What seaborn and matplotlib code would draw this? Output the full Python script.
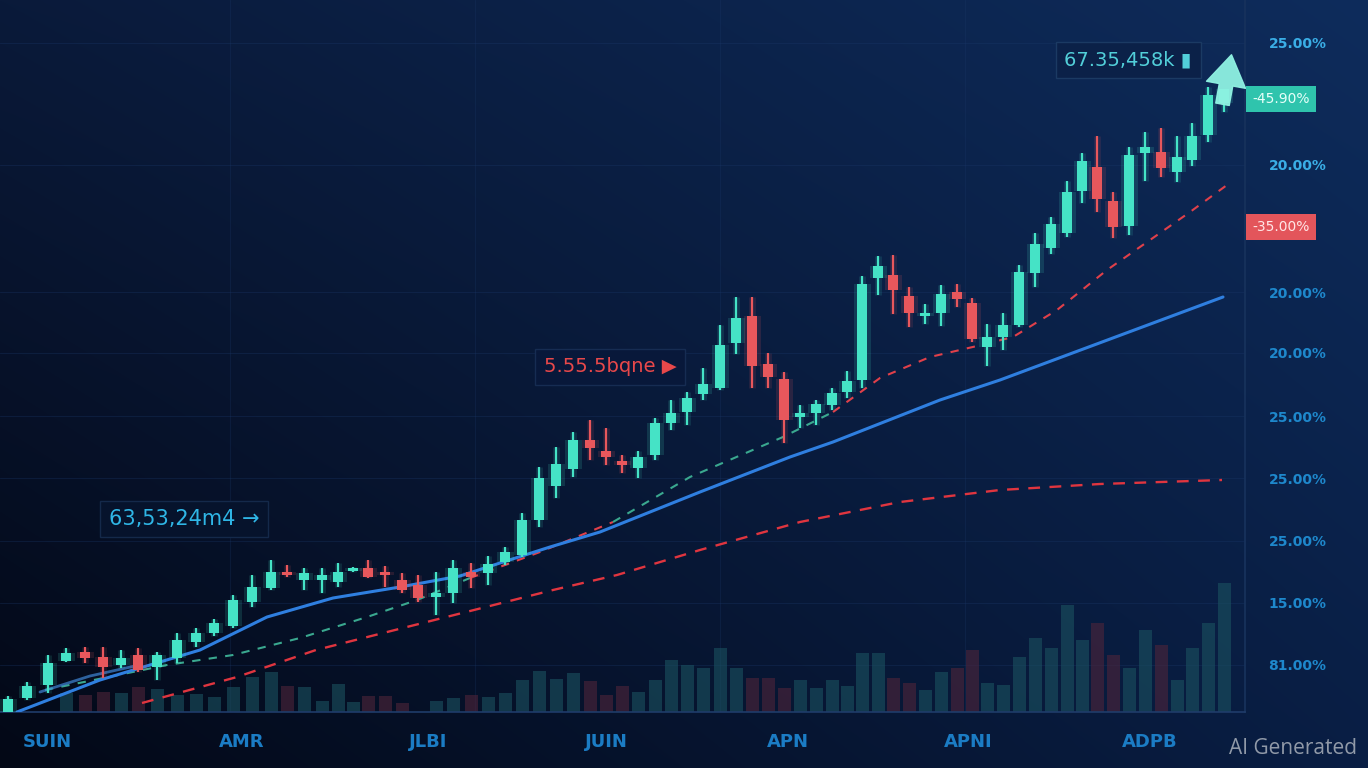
import numpy as np
import matplotlib
matplotlib.use("Agg")
import matplotlib.pyplot as plt
import seaborn as sns

# ------------------------------------------------------------------
# data
# ------------------------------------------------------------------
day = [8, 27, 48, 66, 85, 103, 121, 138, 157, 177, 196, 214, 233, 252, 271, 287, 304, 322, 338, 353,
       368, 385, 402, 418, 436, 453, 471, 488, 505, 522, 539, 556, 573, 590, 606, 622, 638, 655, 671, 687,
       703, 720, 736, 752, 768, 784, 800, 816, 832, 847, 862, 878, 893, 909, 925, 941, 957, 972, 987, 1003,
       1019, 1035, 1051, 1067, 1082, 1097, 1113, 1129, 1145, 1161, 1177, 1192, 1208, 1224]
open_ = [0, 14, 27, 51, 60, 55, 47, 57, 45, 54, 70, 79, 86, 110, 124, 140, 132, 132, 130, 141,
         144, 140, 132, 127, 115, 119, 140, 139, 150, 157, 192, 226, 243, 272, 261, 251, 244, 257, 289, 300,
         318, 324, 369, 396, 348, 333, 295, 299, 307, 320, 332, 434, 437, 416, 396, 399, 420, 409, 365, 375,
         387, 439, 464, 479, 521, 545, 511, 486, 559, 560, 540, 552, 577, 609]
close = [13, 26, 49, 59, 54, 45, 54, 42, 57, 72, 79, 89, 112, 125, 140, 137, 139, 137, 140, 144,
         135, 137, 122, 114, 119, 144, 135, 148, 160, 192, 234, 248, 272, 264, 255, 247, 255, 289, 299, 314,
         328, 367, 394, 346, 335, 292, 299, 308, 319, 331, 428, 446, 422, 399, 399, 418, 413, 373, 375, 387,
         440, 468, 488, 520, 551, 513, 485, 557, 565, 544, 555, 576, 617, 623]
high = [16, 30, 57, 64, 65, 65, 62, 64, 60, 79, 84, 93, 117, 137, 152, 147, 144, 144, 149, 145,
        152, 146, 139, 137, 140, 152, 149, 156, 165, 199, 245, 265, 280, 292, 284, 257, 261, 294, 312, 320,
        344, 387, 415, 415, 359, 340, 307, 312, 324, 341, 436, 456, 457, 425, 408, 427, 428, 414, 388, 399,
        447, 479, 495, 531, 559, 576, 520, 565, 580, 584, 576, 589, 625, 623]
low = [0, 12, 19, 50, 49, 34, 44, 40, 32, 49, 65, 76, 84, 105, 122, 135, 122, 119, 125, 140,
       134, 125, 119, 110, 97, 109, 124, 127, 147, 155, 185, 214, 235, 252, 247, 239, 234, 252, 282, 287,
       312, 322, 358, 324, 324, 269, 284, 287, 302, 314, 324, 417, 398, 385, 388, 386, 405, 370, 346, 362,
       385, 425, 458, 475, 509, 500, 474, 477, 531, 535, 530, 546, 570, 600]
volume = [0, 0, 0, 19, 17, 20, 19, 25, 23, 17, 18, 15, 25, 35, 40, 26, 25, 11, 28, 10,
          16, 16, 9, 0, 11, 14, 17, 15, 19, 32, 41, 33, 39, 31, 17, 26, 20, 32, 52, 47,
          44, 64, 44, 34, 34, 24, 32, 24, 32, 26, 59, 59, 34, 29, 22, 40, 44, 62, 29, 27,
          55, 74, 64, 107, 72, 89, 57, 44, 82, 67, 32, 64, 89, 129]

# moving averages
ma_fast_x = [17, 100, 200, 267, 333, 400, 460, 500, 550, 600, 700, 790, 833, 940, 1000, 1223]
ma_fast = [0, 32, 62, 95, 114, 125, 136, 149, 165, 180, 220, 255, 270, 312, 332, 415]
ma_short_x = [40, 90, 135]
ma_short = [20, 36, 46]
ma_mid_x = [45, 167, 233, 300, 367, 417, 470, 540, 613, 690, 783, 833, 880, 930, 977, 1013,
            1057, 1107, 1150, 1190, 1227]
ma_mid = [22, 47, 57, 74, 95, 112, 134, 160, 190, 235, 275, 300, 334, 355, 366, 375,
          402, 442, 472, 500, 527]
ma_slow_x = [142, 237, 316, 395, 474, 553, 617, 700, 800, 900, 1000, 1100, 1222]
ma_slow = [9, 35, 62, 82, 102, 122, 137, 162, 190, 210, 222, 228, 232]

# axis labels
month_pos = [47, 242, 428, 606, 788, 968, 1150]
month_lab = ["SUIN", "AMR", "JLBI", "JUIN", "APN", "APNI", "ADPB"]
pct_pos = [669, 547, 420, 359, 296, 234, 171, 109, 47]
pct_lab = ["25.00%", "20.00%", "20.00%", "20.00%", "25.00%", "25.00%", "25.00%", "15.00%", "81.00%"]

# ------------------------------------------------------------------
# style
# ------------------------------------------------------------------
sns.set_theme(style="dark")
plt.rcParams["font.family"] = ["DejaVu Sans"]

TEAL = "#45e3c6"
RED = "#e8575c"
BLUE = "#2f7fe0"

fig = plt.figure(figsize=(13.68, 7.68), dpi=100)

# navy gradient background
bg = fig.add_axes([0, 0, 1, 1])
H, W = 768, 1368
u = np.linspace(0, 1, W)[None, :, None]
v = np.linspace(0, 1, H)[:, None, None]
tl = np.array([10, 26, 58]) / 255
tr = np.array([14, 44, 92]) / 255
bl = np.array([3, 8, 22]) / 255
br = np.array([9, 30, 68]) / 255
img = (tl * (1 - u) * (1 - v) + tr * u * (1 - v) + bl * (1 - u) * v + br * u * v)
bg.imshow(img, aspect="auto", extent=[0, 1, 0, 1])
bg.axis("off")

ax = fig.add_axes([0, 56 / 768, 1245 / 1368, 712 / 768])
ax.set_facecolor("none")
ax.set_xlim(0, 1245)
ax.set_ylim(0, 712)

# grid
for y in pct_pos:
    ax.axhline(y, color="#1c3a6c", lw=0.8, alpha=0.3, zorder=0)
for x in [230, 475, 720, 965]:
    ax.axvline(x, color="#1c3a6c", lw=0.8, alpha=0.25, zorder=0)

# volume bars
for d, vol, o, c in zip(day, volume, open_, close):
    col = "#1b5260" if c >= o else "#4f253a"
    ax.bar(d, vol, width=13, bottom=0, color=col, alpha=0.6, zorder=1, linewidth=0)

# moving averages
sns.lineplot(x=ma_slow_x, y=ma_slow, ax=ax, color="#e0353f", linewidth=1.7,
             linestyle=(0, (5, 4)), zorder=2)
segs = [(0, 7, "#3aa88f"), (6, 9, "#e0404a"), (8, 12, "#3aa88f"), (11, len(ma_mid_x), "#e0404a")]
for a, b, col in segs:
    sns.lineplot(x=ma_mid_x[a:b], y=ma_mid[a:b], ax=ax, color=col, linewidth=1.5,
                 linestyle=(0, (4, 4)), zorder=2)
sns.lineplot(x=ma_fast_x, y=ma_fast, ax=ax, color=BLUE, linewidth=2.2, zorder=3)
sns.lineplot(x=ma_short_x, y=ma_short, ax=ax, color="#3f86d6", linewidth=2.0, alpha=0.7, zorder=3)

# candlesticks
for d, o, c, h, l in zip(day, open_, close, high, low):
    col = TEAL if c >= o else RED
    lo, hi = min(o, c), max(o, c)
    body = max(hi - lo, 3)
    ax.vlines(d, l, h, color=col, lw=5, alpha=0.12, zorder=4)
    ax.bar(d, body, bottom=lo, width=17, color=col, alpha=0.15, linewidth=0, zorder=4)
    ax.vlines(d, l, h, color=col, lw=1.6, zorder=5)
    ax.bar(d, body, bottom=lo, width=10, color=col, linewidth=0, zorder=6)

# up arrow
ax.annotate("", xy=(1232, 660), xytext=(1222, 605),
            arrowprops=dict(arrowstyle="simple,head_width=1.3,head_length=1.0,tail_width=0.45",
                            color="#8ff2e2", alpha=0.95, mutation_scale=22), zorder=7)

# annotation boxes
ax.text(1128, 652, "67.35,458k \u25ae", color="#52cfd9", fontsize=14, ha="center", va="center",
        bbox=dict(boxstyle="square,pad=0.45", fc="#0b2148", ec="#1b3a63", lw=1), zorder=8)
ax.text(184, 193, "63,53,24m4 \u2192", color="#2fb6e6", fontsize=15, ha="center", va="center",
        bbox=dict(boxstyle="square,pad=0.4", fc="#06132c", ec="#14294a", lw=1), zorder=8)
ax.text(610, 345, "5.55.5bqne \u25b6", color="#e8484a", fontsize=14, ha="center", va="center",
        bbox=dict(boxstyle="square,pad=0.45", fc="#08183a", ec="#162c52", lw=1), zorder=8)

# badges on the price scale
ax.text(1281, 613, "-45.90%", color="#e6fff9", fontsize=10, ha="center", va="center", clip_on=False,
        bbox=dict(boxstyle="square,pad=0.45", fc="#2fc4ad", ec="none"), zorder=8)
ax.text(1281, 485, "-35.00%", color="#ffe6e6", fontsize=10, ha="center", va="center", clip_on=False,
        bbox=dict(boxstyle="square,pad=0.45", fc="#e3555b", ec="none"), zorder=8)

# axes cosmetics
ax.yaxis.tick_right()
ax.set_yticks(pct_pos)
ax.set_yticklabels(pct_lab, fontsize=10, fontweight="bold")
for i, t in enumerate(ax.get_yticklabels()):
    t.set_color("#3aaee6" if i < 2 else "#1e88cc")
ax.set_xticks(month_pos)
ax.set_xticklabels(month_lab, fontsize=13, fontweight="bold", color="#1b7cc4")
ax.tick_params(axis="y", length=0, pad=17)
ax.tick_params(axis="x", length=0, pad=15)
ax.grid(False)
for side in ["top", "left"]:
    ax.spines[side].set_visible(False)
ax.spines["bottom"].set_color("#1f3c6a")
ax.spines["bottom"].set_linewidth(1.2)
ax.spines["right"].set_color("#17325c")
ax.set_xlabel("")
ax.set_ylabel("")

fig.text(1357 / 1368, 20 / 768, "AI Generated", color="#a0a8b4", fontsize=15, ha="right", va="center",
         family=["Open Sans", "DejaVu Sans"], alpha=0.9)

fig.savefig("out.png", dpi=100)
plt.close(fig)
